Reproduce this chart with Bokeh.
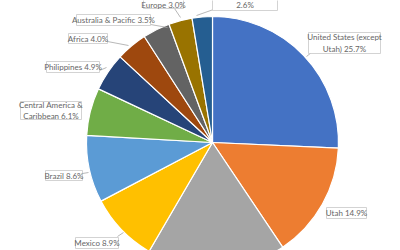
import numpy as np
from bokeh.plotting import figure
from bokeh.models import Range1d, ColumnDataSource
from bokeh.core.properties import value
from bokeh.embed import file_html
from bokeh.resources import INLINE

# ---- data (clockwise from 12 o'clock) ----
categories = ["United States (except Utah)", "Utah", "Other", "Mexico", "Brazil",
              "Central America & Caribbean", "Philippines", "Africa",
              "Australia & Pacific", "Europe", "Asia"]
shares = [25.7, 14.9, 17.8, 8.9, 8.6, 6.1, 4.9, 4.0, 3.5, 3.0, 2.6]
colors = ["#4472C4", "#ED7D31", "#A5A5A5", "#FFC000", "#5B9BD5", "#70AD47",
          "#264478", "#9E480E", "#636363", "#997300", "#255E91"]

W, H = 400, 250
p = figure(width=W, height=H, output_backend="svg", toolbar_location=None,
           x_range=Range1d(0, W), y_range=Range1d(0, H), min_border=0)
p.axis.visible = False
p.grid.visible = False
p.outline_line_color = None
p.background_fill_color = "white"
p.border_fill_color = "white"

def Y(py):
    return H - py

cx, cy, r = 212, Y(142), 126
frac = np.array(shares) / sum(shares)
cum = np.concatenate([[0], np.cumsum(frac)])
start = np.pi / 2 - 2 * np.pi * cum[:-1]
end = np.pi / 2 - 2 * np.pi * cum[1:]
src = ColumnDataSource(dict(start=start, end=end, color=colors))
p.wedge(x=cx, y=cy, radius=r, start_angle="start", end_angle="end",
        direction="clock", fill_color="color", line_color="white",
        line_width=1.2, source=src)

def lab(i):
    return f"{categories[i]} {shares[i]:.1f}%"

# (index, box x0, y0, x1, y1 in pixels, leader line or None, text, text centre y)
labels = [
    (0, (308, 32, 380, 53), ((311, 52), (306, 56)),
     f"United States (except\nUtah) {shares[0]:.1f}%", None),
    (1, (326, 207, 366, 218), None, lab(1), None),
    (3, (75, 237, 118, 248), ((117, 236), (123, 232)), lab(3), None),
    (4, (45, 170, 82, 180), ((82, 173), (88, 172)), lab(4), None),
    (5, (20, 101, 81, 119), None,
     f"Central America &\nCaribbean {shares[5]:.1f}%", None),
    (6, (46, 61, 99, 72), ((99, 70), (106, 67)), lab(6), None),
    (7, (68, 33, 107, 43), ((107, 41), (128, 45)), lab(7), None),
    (8, (76, 14, 150, 25), ((150, 24), (167, 27)), lab(8), None),
    (9, (143, -6, 183, 8), ((174, 8), (180, 17)), lab(9), 4.2),
    (10, (212, -10, 277, 10), ((213, 9), (196, 15)), f"{shares[10]:.1f}%", 4.5),
]

for i, (x0, y0, x1, y1), leader, txt, ty in labels:
    if leader is not None:
        (ax, ay), (bx, by) = leader
        p.segment(x0=ax, y0=Y(ay), x1=bx, y1=Y(by), line_color="#A6A6A6",
                  line_width=0.8)
    p.quad(left=x0, right=x1, bottom=Y(y1), top=Y(y0), fill_color="white",
           line_color="#C8C8C8", line_width=0.8)
    if ty is None:
        ty = (y0 + y1) / 2
    p.text(x=(x0 + x1) / 2, y=Y(ty), text=[txt], text_align="center",
           text_baseline="middle", text_font=value("Lato"),
           text_font_size="8px", text_color="#666666", text_line_height=1.15)

open("out.html", "w").write(file_html(p, INLINE))
